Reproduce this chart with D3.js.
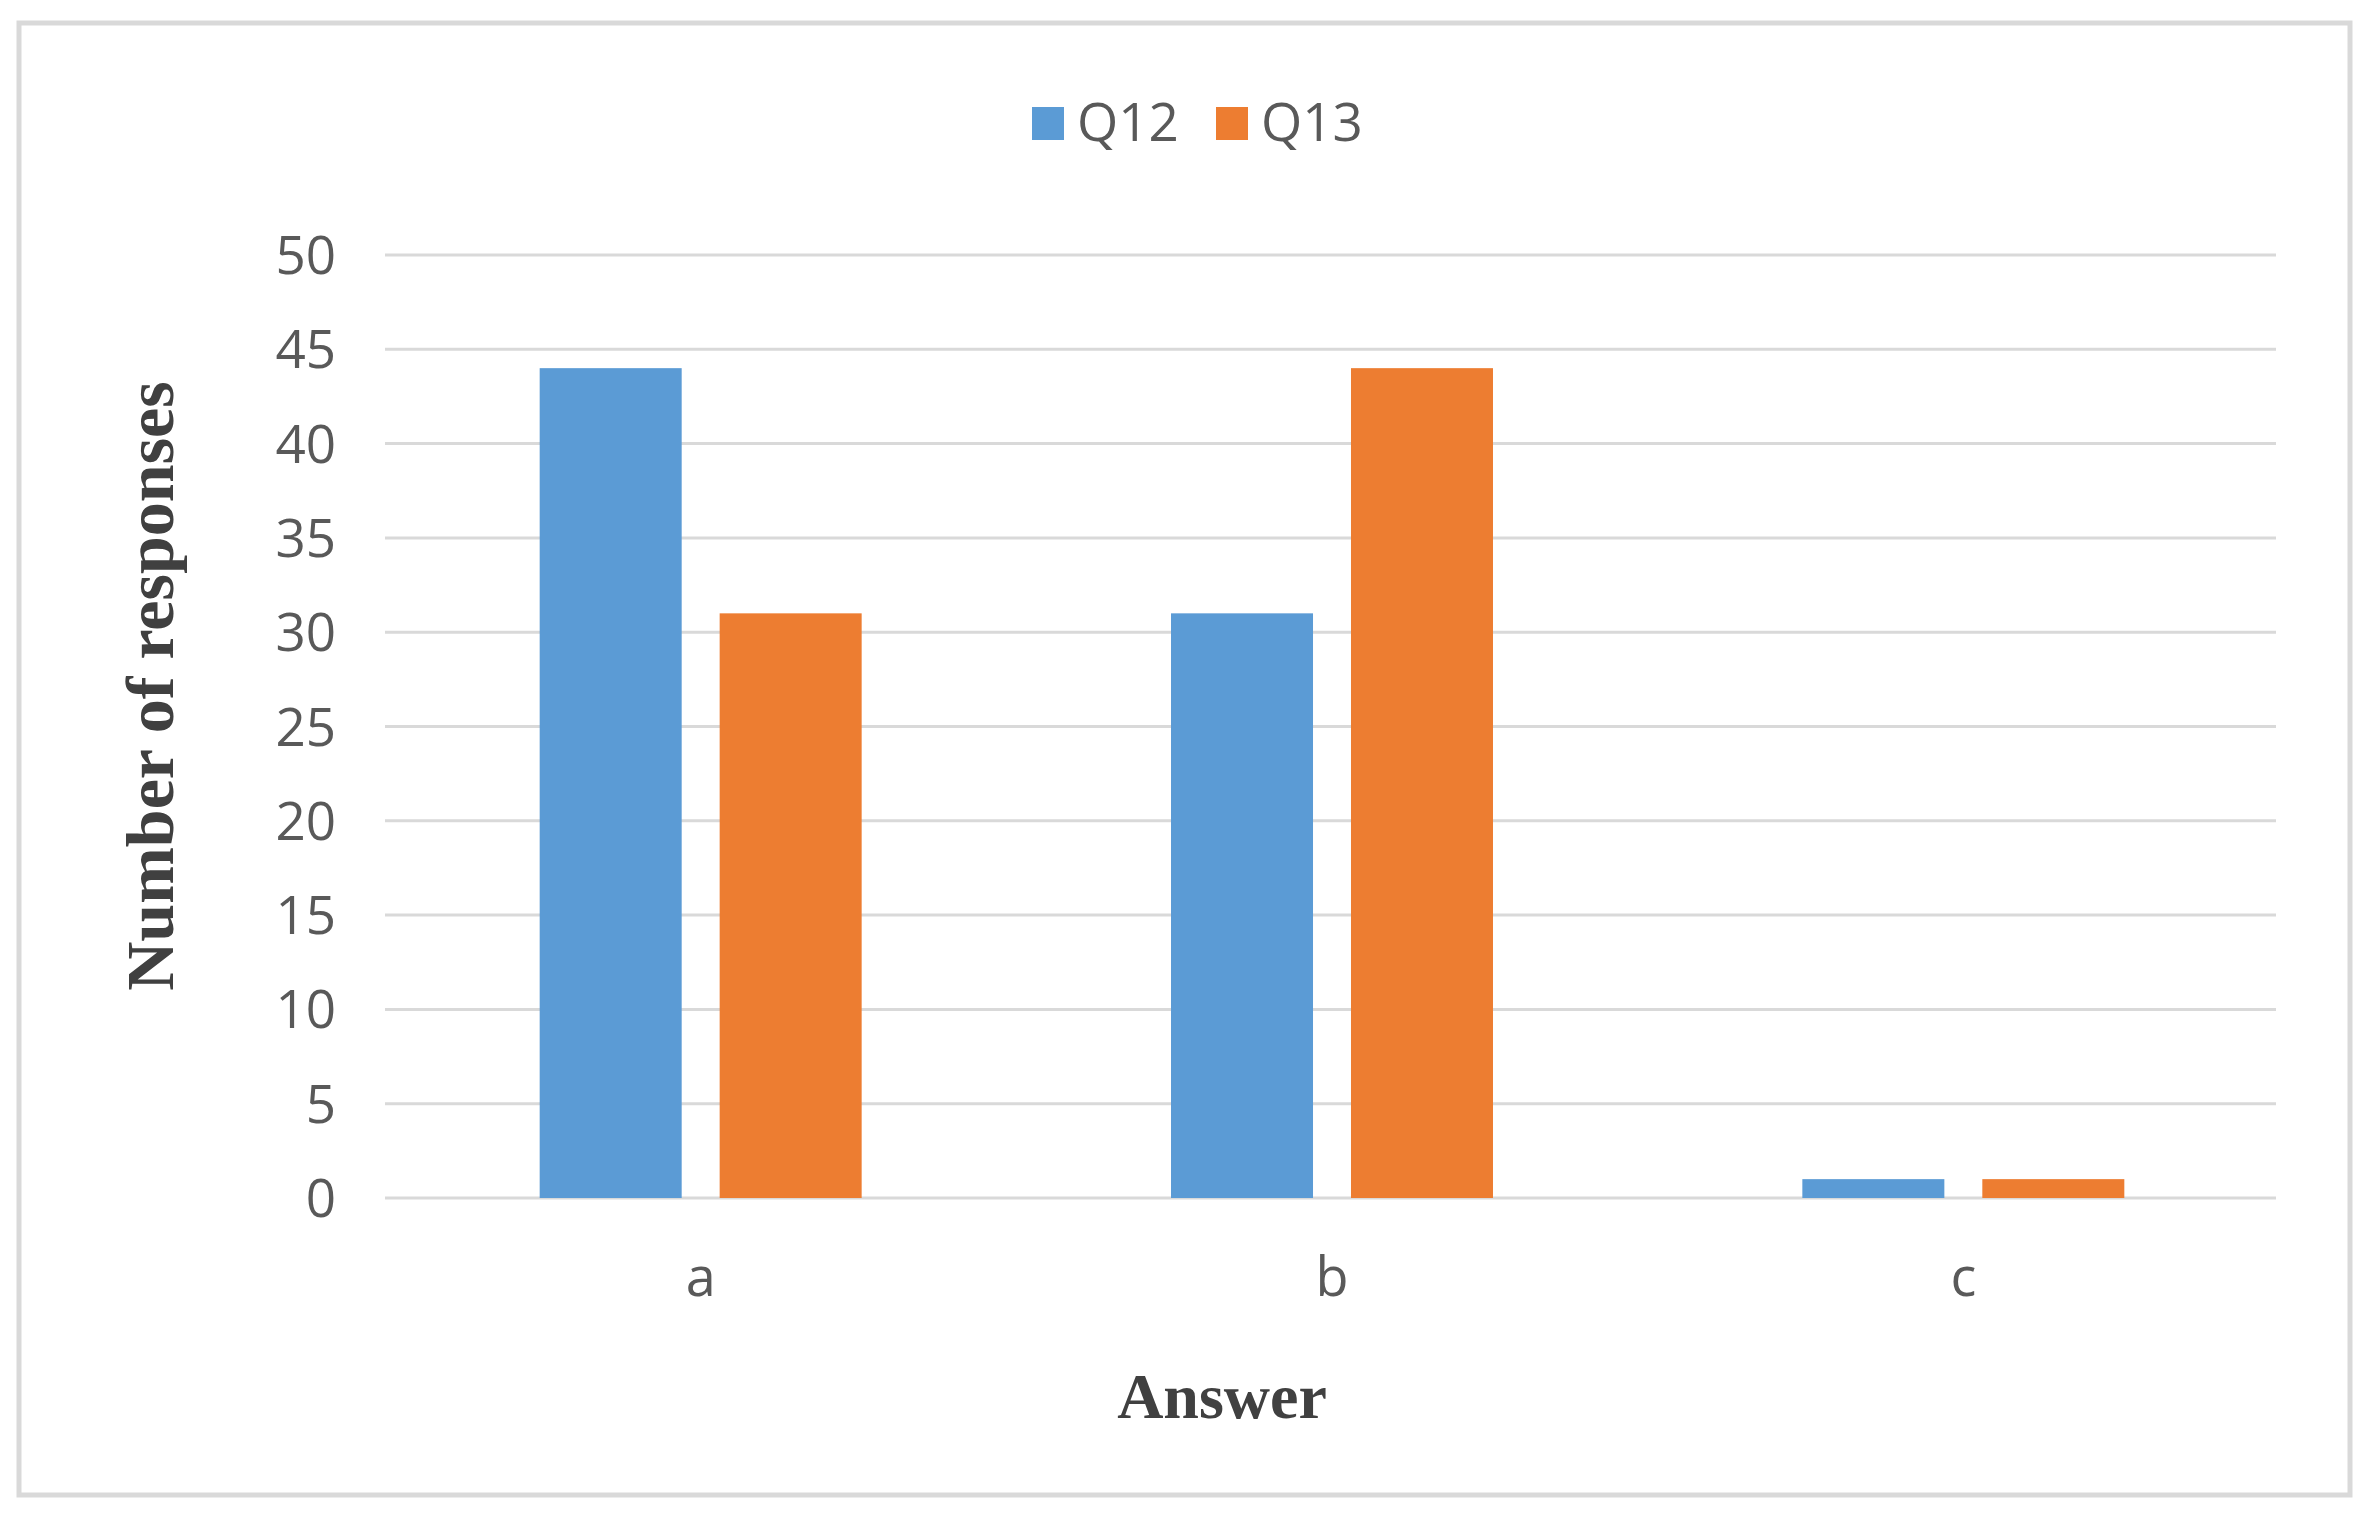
<!DOCTYPE html>
<html>
<head>
<meta charset="utf-8">
<script src="https://cdn.jsdelivr.net/npm/d3@7"></script>
<style>
  body { margin: 0; background: #fff; }
</style>
</head>
<body>
<div class="chart"></div>
<script>
var answers = ["a", "b", "c"],
    questions = ["Q12", "Q13"],
    q12Values = [44, 31, 1],
    q13Values = [31, 44, 1],
    yTicks = [0, 5, 10, 15, 20, 25, 30, 35, 40, 45, 50];

var colors = {Q12: "#5b9bd5", Q13: "#ed7d31"};

var width = 2370,
    height = 1522,
    plot = {left: 385, right: 2279, top: 255, bottom: 1198};

var svg = d3.select(".chart").append("svg")
    .attr("width", width)
    .attr("height", height);

// outer frame
svg.append("rect")
    .attr("x", 19).attr("y", 23)
    .attr("width", 2331).attr("height", 1472)
    .attr("fill", "#fff")
    .attr("stroke", "#d9d9d9")
    .attr("stroke-width", 5);

var x = d3.scaleBand()
    .domain(answers)
    .range([plot.left, plot.right])
    .paddingInner(0.49)
    .paddingOuter(0.245);

var xInner = d3.scaleBand()
    .domain(questions)
    .range([0, x.bandwidth()])
    .paddingInner(0.211);

var y = d3.scaleLinear()
    .domain([0, 50])
    .range([plot.bottom, plot.top]);

// gridlines
svg.append("g").attr("class", "grid")
    .selectAll("line")
    .data(yTicks)
    .enter().append("line")
    .attr("x1", plot.left)
    .attr("x2", 2276)
    .attr("y1", function(d) { return y(d); })
    .attr("y2", function(d) { return y(d); })
    .attr("stroke", "#d9d9d9")
    .attr("stroke-width", 3);

// y tick labels
svg.append("g").attr("class", "yticks")
    .selectAll("text")
    .data(yTicks)
    .enter().append("text")
    .text(function(d) { return d; })
    .attr("x", 336)
    .attr("y", function(d) { return y(d) + 19; })
    .attr("text-anchor", "end")
    .attr("font-family", "Open Sans")
    .attr("font-size", "53px")
    .attr("fill", "#595959");

// bars
var rows = answers.map(function(a, i) {
  return {answer: a, values: [
    {key: "Q12", value: q12Values[i]},
    {key: "Q13", value: q13Values[i]}
  ]};
});

var groups = svg.append("g").attr("class", "bars")
    .selectAll("g")
    .data(rows)
    .enter().append("g")
    .attr("transform", function(d) { return "translate(" + x(d.answer) + ",0)"; });

groups.selectAll("rect")
    .data(function(d) { return d.values; })
    .enter().append("rect")
    .attr("x", function(d) { return xInner(d.key); })
    .attr("width", xInner.bandwidth())
    .attr("y", function(d) { return y(d.value); })
    .attr("height", function(d) { return y(0) - y(d.value); })
    .attr("fill", function(d) { return colors[d.key]; });

// category labels
svg.append("g").attr("class", "xticks")
    .selectAll("text")
    .data(answers)
    .enter().append("text")
    .text(function(d) { return d; })
    .attr("x", function(d) { return x(d) + x.bandwidth() / 2; })
    .attr("y", 1296)
    .attr("text-anchor", "middle")
    .attr("font-family", "Open Sans")
    .attr("font-size", "54px")
    .attr("fill", "#595959");

// legend
var legendX = [1032, 1216];
var legend = svg.append("g").attr("class", "legend")
    .selectAll("g")
    .data(questions)
    .enter().append("g")
    .attr("transform", function(d, i) { return "translate(" + legendX[i] + ",0)"; });

legend.append("rect")
    .attr("x", 0).attr("y", 107)
    .attr("width", 32).attr("height", 33)
    .attr("fill", function(d) { return colors[d]; });

legend.append("text")
    .text(function(d) { return d; })
    .attr("x", 45)
    .attr("y", 141)
    .attr("font-family", "Open Sans")
    .attr("font-size", "53px")
    .attr("fill", "#595959");

// axis titles
svg.append("text")
    .text("Answer")
    .attr("x", 1222)
    .attr("y", 1418)
    .attr("text-anchor", "middle")
    .attr("font-family", "Liberation Serif")
    .attr("font-weight", "bold")
    .attr("font-size", "64px")
    .attr("fill", "#404040");

svg.append("text")
    .text("Number of responses")
    .attr("transform", "translate(173,686) rotate(-90)")
    .attr("text-anchor", "middle")
    .attr("font-family", "Liberation Serif")
    .attr("font-weight", "bold")
    .attr("font-size", "68px")
    .attr("fill", "#404040");
</script>
</body>
</html>
